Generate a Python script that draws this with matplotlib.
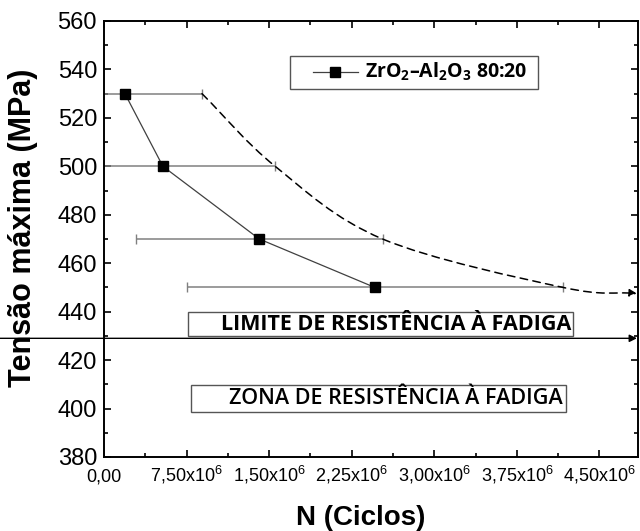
import numpy as np
import matplotlib
matplotlib.use("Agg")
import matplotlib.pyplot as plt
from matplotlib.path import Path
from matplotlib.patches import FancyArrowPatch, Rectangle
from matplotlib.ticker import MultipleLocator, FixedLocator, FixedFormatter

plt.rcParams["font.family"] = ["Liberation Sans", "DejaVu Sans"]
plt.rcParams["mathtext.fontset"] = "custom"
plt.rcParams["mathtext.rm"] = "Liberation Sans"
plt.rcParams["mathtext.it"] = "Liberation Sans:italic"
plt.rcParams["mathtext.bf"] = "Open Sans:bold"

# data
ciclos = [0.19e6, 0.535e6, 1.41e6, 2.46e6]
tensao = [530, 500, 470, 450]
erro_ciclos = [0.70e6, 1.02e6, 1.12e6, 1.71e6]
fim_tendencia = (4.84e6, 447.5)
limite_fadiga = 429

x_ticks = [0, 0.75e6, 1.5e6, 2.25e6, 3.0e6, 3.75e6, 4.5e6]
x_tick_labels = ["0,00", "7,50x$10^{6}$", "1,50x$10^{6}$", "2,25x$10^{6}$",
                 "3,00x$10^{6}$", "3,75x$10^{6}$", "4,50x$10^{6}$"]
legenda = r"$\mathbf{ZrO_2}$" + "\u2013" + r"$\mathbf{Al_2O_3}$ 80:20"

fig = plt.figure(figsize=(6.4, 5.31), dpi=100)
ax = fig.add_axes([104 / 640, 74 / 531, 534 / 640, 436 / 531])

ax.errorbar(ciclos, tensao, xerr=erro_ciclos, fmt="none", ecolor="#808080",
            elinewidth=1.1, capsize=3.5, capthick=1.0, zorder=2)
ax.plot(ciclos, tensao, color="#404040", lw=0.9, marker="s", ms=7.5,
        mfc="black", mec="black", zorder=3)

# dashed trend through the right ends of the error bars (Catmull-Rom as Bezier)
pts = [(c + e, t) for c, e, t in zip(ciclos, erro_ciclos, tensao)] + [fim_tendencia]
pts = np.array(pts)
ext = np.vstack([pts[0] - (pts[1] - pts[0]), pts, pts[-1] + (pts[-1] - pts[-2])])
verts = [tuple(pts[0])]
codes = [Path.MOVETO]
for i in range(1, len(ext) - 2):
    p0, p1, p2, p3 = ext[i - 1], ext[i], ext[i + 1], ext[i + 2]
    verts += [tuple(p1 + (p2 - p0) / 6), tuple(p2 - (p3 - p1) / 6), tuple(p2)]
    codes += [Path.CURVE4] * 3
seta = FancyArrowPatch(path=Path(verts, codes), arrowstyle="-|>",
                       mutation_scale=11, color="black", lw=1.1,
                       linestyle=(0, (5, 3.5)), zorder=2)
ax.add_patch(seta)

# fatigue limit arrow
ax.annotate("", xy=(4.84e6, limite_fadiga), xytext=(-0.95e6, limite_fadiga),
            arrowprops=dict(arrowstyle="-|>", color="black", lw=1.0,
                            mutation_scale=11, shrinkA=0, shrinkB=0),
            annotation_clip=False)

ax.add_patch(Rectangle((0.763e6, 429.8), 3.5e6, 10, fill=False,
                       ec="#555555", lw=1.0, zorder=1))
ax.text(2.65e6, 434.8, "LIMITE DE RESISTÊNCIA À FADIGA", ha="center",
        va="center", fontsize=15.5, family="Open Sans", fontweight="bold")
ax.add_patch(Rectangle((0.79e6, 398.4), 3.41e6, 11.2, fill=False,
                       ec="#555555", lw=1.0, zorder=1))
ax.text(2.65e6, 404, "ZONA DE RESISTÊNCIA À FADIGA", ha="center",
        va="center", fontsize=15.5, family="Open Sans", fontweight="semibold")

# legend box
ax.add_patch(Rectangle((0.3483, 0.844), 0.4644, 0.0757, transform=ax.transAxes,
                       fill=False, ec="#555555", lw=1.0, zorder=4))
ax.plot([0.3914, 0.4757], [0.882, 0.882], transform=ax.transAxes,
        color="#404040", lw=0.9, zorder=5)
ax.plot([0.4335], [0.882], transform=ax.transAxes, marker="s", ms=7.5,
        color="black", zorder=5)
ax.text(0.4888, 0.884, legenda, transform=ax.transAxes, ha="left",
        va="center", fontsize=14, family="Open Sans", fontweight="bold")

ax.set_xlim(0, 4.85e6)
ax.set_ylim(380, 560)
ax.xaxis.set_major_locator(FixedLocator(x_ticks))
ax.xaxis.set_major_formatter(FixedFormatter(x_tick_labels))
ax.xaxis.set_minor_locator(MultipleLocator(0.375e6))
ax.yaxis.set_major_locator(MultipleLocator(20))
ax.yaxis.set_minor_locator(MultipleLocator(10))
ax.tick_params(which="both", direction="in", top=True, right=True, width=1.2)
ax.tick_params(which="major", length=5)
ax.tick_params(which="minor", length=3)
ax.tick_params(axis="y", labelsize=17, pad=5)
ax.tick_params(axis="x", labelsize=13, pad=18)
for lab in ax.get_xticklabels():
    lab.set_verticalalignment("baseline")
for s in ax.spines.values():
    s.set_linewidth(1.4)

ax.set_xlabel("N (Ciclos)", fontsize=20, fontweight="bold")
ax.set_ylabel("Tensão máxima (MPa)", fontsize=22, fontweight="bold")
ax.xaxis.set_label_coords(0.481, -0.11)
ax.yaxis.set_label_coords(-0.124, 0.525)

fig.savefig("out.png", dpi=100)
